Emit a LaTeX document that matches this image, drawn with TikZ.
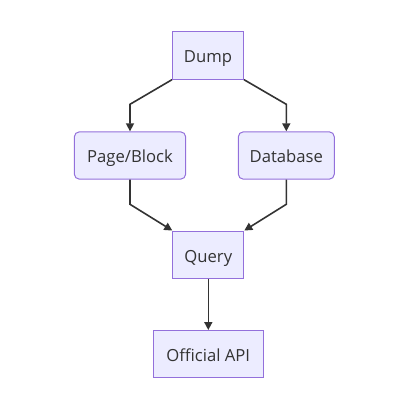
\documentclass[tikz,border=0pt]{standalone}
\usepackage{fontspec}
\setmainfont{Open Sans}
\usetikzlibrary{positioning}
\usetikzlibrary{arrows.meta}
\definecolor{boxfill}{HTML}{ECECFF}
\definecolor{boxline}{HTML}{9370DB}
\definecolor{edgeline}{HTML}{333333}
\tikzset{
	every node/.style = {font=\fontsize{12.5}{14}\selectfont, text=edgeline},
	box/.style = {draw=boxline, fill=boxfill, line width=0.75pt, minimum height=35.5pt, inner xsep=2pt, text height=11pt, text depth=0pt},
	roundbox/.style = {box, rounded corners=3.75pt},
	edge/.style = {draw=edgeline, line width=1.2pt, -{Triangle[length=6pt,width=6pt]}}
}

\begin{document}
\begin{tikzpicture}[x=0.75pt, y=-0.75pt]
		\useasboundingbox (0,0) rectangle (417,410);
		% level 1
		\node[box, minimum width=53.25pt] (dump) at (208,55.5) {Dump};
		% level 2
		\node[roundbox, minimum width=83.5pt] (page) at (130,155.5) {Page/Block};
		\node[roundbox, minimum width=72pt] (db) at (286.3,155.5) {Database};
		% level 3
		\node[box, minimum width=53.25pt] (query) at (208.3,254.7) {Query};
		\node[box, minimum width=82.5pt] (api) at (208.3,354.2) {Official API};

		% bends
		\coordinate (pagein) at (130,104.3);
		\coordinate (dbin) at (286.3,104.3);
		\coordinate (pageout) at (130,204.3);
		\coordinate (dbout) at (286.3,204.3);

		% edges
		\draw[edge] (dump.south west) -- (pagein) -- (page);
		\draw[edge] (dump.south east) -- (dbin) -- (db);
		\draw[edge] (page.south) -- (pageout) -- (query.north west);
		\draw[edge] (db.south) -- (dbout) -- (query.north east);
		\draw[edge] (query) -- (api);
	\end{tikzpicture}
\end{document}
